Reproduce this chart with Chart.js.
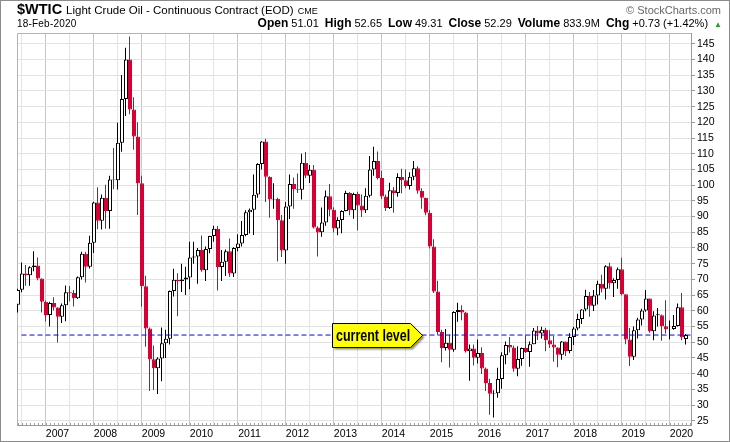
<!DOCTYPE html>
<html>
<head>
<meta charset="utf-8">
<title>$WTIC Light Crude Oil - Continuous Contract (EOD)</title>
<script src="https://cdn.jsdelivr.net/npm/chart.js@4.4.1/dist/chart.umd.min.js"></script>
<style>
  html, body { margin: 0; padding: 0; background: #fff; }
  #wrap { position: relative; width: 730px; height: 442px; overflow: hidden;
          font-family: "Liberation Sans", Arial, sans-serif; color: #000; }
  #chart { position: absolute; left: 0; top: 0; }
  #frame { position: absolute; left: 0; top: 0; width: 728px; height: 440px;
           border: 1px solid #8c8c8c; pointer-events: none; }
  .hdr { position: absolute; white-space: nowrap; display: flex; align-items: baseline; }
  #title { left: 17px; top: 2px; line-height: 15px; }
  #title b { font-size: 14.5px; margin-right: 4px; }
  #title .name { font-size: 11.5px; margin-right: 4px; }
  #title .exch { font-size: 9px; }
  #brand { right: 9px; top: 4px; font-size: 11px; color: #666; line-height: 12px; }
  #date { left: 17px; top: 18px; font-size: 10px; line-height: 11px; letter-spacing: 0.2px; }
  #quote { right: 8px; top: 17px; line-height: 12px; }
  #quote b { font-size: 12px; margin-right: 3px; }
  #quote span { font-size: 11px; margin-right: 6px; }
  #quote .arrow { font-size: 8px; color: #2e9b2e; margin-right: 0; }
</style>
</head>
<body>
<div id="wrap">
  <canvas id="chart" width="730" height="442"></canvas>
  <div class="hdr" id="title"><b>$WTIC</b><span class="name">Light Crude Oil - Continuous Contract (EOD)</span><span class="exch">CME</span></div>
  <div class="hdr" id="brand">© StockCharts.com</div>
  <div class="hdr" id="date"></div>
  <div class="hdr" id="quote"></div>
  <div id="frame"></div>
</div>
<script>
  // monthly candles, first one is Mar 2006 (months counted from Jan 2007)
  const firstMonth = -10;

  const opens = [
    61.9, 66.7, 71.9, 71.3, 73.9, 74.4, 70.3, 62.9, 58.7, 62.5,
    61.05, 58.1, 61.8, 65.9, 65.7, 64.0, 70.7, 78.2, 74.0, 81.7, 94.5, 88.7,
    96.0, 91.75, 101.8, 101.6, 113.5, 127.4, 140.0, 124.1, 115.5, 100.6, 67.8, 54.4,
    44.6, 41.7, 44.8, 49.7, 51.1, 66.3, 69.9, 69.5, 70.0, 70.6, 77.0, 77.3,
    79.4, 72.9, 79.7, 83.8, 86.15, 73.97, 75.6, 79.0, 71.9, 80.0, 81.4, 84.1,
    91.4, 92.2, 97.0, 106.7, 113.9, 102.7, 95.4, 95.7, 88.8, 79.2, 93.2, 100.4,
    98.8, 98.5, 107.1, 103.0, 104.9, 86.5, 85.0, 88.1, 96.5, 92.2, 86.2, 88.9,
    91.8, 97.5, 92.05, 97.2, 93.5, 92.0, 96.6, 105.0, 107.7, 102.3, 96.4, 92.7,
    98.4, 97.5, 102.6, 101.6, 99.7, 102.7, 105.4, 98.2, 96.0, 91.2, 80.5, 66.15,
    53.3, 48.2, 49.8, 47.6, 59.6, 60.3, 59.5, 47.1, 48.0, 45.1, 46.6, 41.65,
    37.04, 33.6, 33.75, 38.3, 45.9, 49.1, 48.3, 41.6, 44.7, 48.2, 46.86, 49.4,
    53.7, 52.8, 54.0, 50.6, 49.3, 48.3, 46.0, 50.2, 47.2, 51.7, 54.4, 57.4,
    60.4, 64.7, 61.6, 64.9, 68.6, 67.0, 74.15, 68.8, 69.8, 73.25, 65.3, 50.9,
    45.4, 53.8, 57.2, 60.1, 63.9, 53.5, 58.9, 58.6, 55.1, 54.1, 54.2, 55.2,
    61.1, 51.0
  ];

  const highs = [
    67.0, 75.35, 74.6, 74.2, 79.0, 77.0, 70.3, 63.3, 62.9, 64.3,
    61.1, 62.3, 68.1, 67.9, 66.6, 70.9, 78.8, 78.8, 83.9, 94.7, 99.3, 97.0,
    100.1, 103.0, 111.8, 119.9, 135.1, 143.7, 147.3, 128.0, 120.0, 103.0, 71.2, 54.7,
    49.0, 45.2, 54.7, 54.0, 66.5, 73.4, 72.0, 75.0, 74.0, 82.0, 82.0, 80.0,
    83.95, 80.5, 83.9, 87.1, 87.0, 79.4, 79.5, 83.0, 80.2, 84.4, 88.6, 92.0,
    92.6, 103.4, 106.95, 114.0, 114.8, 102.8, 100.6, 96.0, 90.5, 94.65, 103.4, 102.4,
    103.7, 110.0, 110.55, 106.4, 106.4, 86.9, 92.9, 98.3, 100.4, 93.0, 89.8, 92.0,
    98.2, 97.8, 97.6, 97.9, 97.0, 99.0, 109.3, 112.2, 110.7, 104.6, 97.0, 100.75,
    99.4, 103.8, 105.2, 104.99, 104.1, 107.7, 106.0, 99.0, 96.0, 92.0, 82.8, 69.6,
    54.0, 54.2, 52.5, 59.9, 62.6, 61.8, 59.7, 49.3, 49.3, 50.9, 48.4, 42.0,
    38.4, 34.7, 41.9, 46.8, 50.2, 51.7, 49.0, 48.75, 48.3, 52.2, 50.2, 54.5,
    55.2, 54.9, 54.6, 53.8, 52.0, 48.4, 50.4, 50.2, 52.9, 54.9, 59.05, 60.5,
    66.7, 66.0, 66.6, 69.6, 71.5, 74.5, 75.3, 70.4, 73.8, 76.9, 65.3, 54.55,
    55.0, 57.8, 60.7, 66.6, 63.9, 59.9, 60.9, 58.8, 63.4, 56.9, 58.7, 62.3,
    65.65, 52.65
  ];

  const lows = [
    59.5, 65.9, 68.0, 68.0, 72.6, 69.7, 59.5, 56.6, 55.0, 60.1,
    49.9, 56.1, 56.7, 63.0, 61.4, 63.8, 70.0, 69.0, 73.5, 78.4, 86.0, 85.9,
    86.1, 86.1, 98.7, 98.6, 110.6, 122.0, 122.6, 111.3, 90.5, 61.3, 48.6, 34.5,
    34.8, 33.55, 37.6, 45.0, 49.3, 64.6, 58.3, 66.0, 65.05, 66.9, 75.0, 68.6,
    72.4, 69.5, 78.3, 82.0, 66.5, 69.5, 71.1, 70.8, 70.8, 79.0, 80.5, 83.7,
    84.6, 84.1, 96.0, 105.0, 94.6, 89.6, 92.5, 75.7, 77.1, 74.95, 89.2, 92.5,
    97.5, 95.4, 102.2, 100.7, 86.2, 77.3, 83.6, 87.1, 90.1, 84.9, 84.05, 84.7,
    91.7, 90.4, 89.3, 85.6, 89.9, 91.1, 96.1, 103.0, 101.8, 95.6, 91.8, 92.4,
    91.2, 96.3, 97.4, 99.0, 98.6, 101.6, 97.3, 92.5, 90.4, 79.8, 65.7, 52.4,
    43.6, 47.4, 42.0, 47.0, 56.5, 57.0, 46.7, 37.75, 42.6, 43.2, 39.9, 34.5,
    26.9, 26.05, 32.3, 35.2, 43.0, 46.7, 40.6, 39.2, 42.5, 46.6, 42.2, 49.4,
    50.7, 51.2, 47.1, 48.2, 43.8, 42.05, 44.4, 45.6, 46.5, 49.1, 53.8, 55.8,
    59.9, 58.1, 59.95, 62.0, 65.8, 63.6, 67.0, 64.4, 67.0, 64.9, 49.4, 42.4,
    44.35, 51.2, 55.3, 59.7, 53.0, 50.6, 55.0, 50.5, 52.8, 50.99, 54.0, 55.0,
    50.6, 49.31
  ];

  const closes = [
    66.6, 71.9, 71.3, 73.9, 74.4, 70.3, 62.9, 58.7, 62.5, 61.05,
    58.1, 61.8, 65.9, 65.7, 64.0, 70.7, 78.2, 74.0, 81.7, 94.5, 88.7, 96.0,
    91.75, 101.8, 101.6, 113.5, 127.4, 140.0, 124.1, 115.5, 100.6, 67.8, 54.4, 44.6,
    41.7, 44.8, 49.7, 51.1, 66.3, 69.9, 69.45, 69.96, 70.6, 77.0, 77.3, 79.4,
    72.9, 79.7, 83.8, 86.15, 73.97, 75.6, 78.95, 71.9, 79.97, 81.4, 84.1, 91.4,
    92.2, 96.97, 106.7, 113.9, 102.7, 95.4, 95.7, 88.8, 79.2, 93.2, 100.4, 98.8,
    98.5, 107.1, 103.0, 104.9, 86.5, 84.96, 88.1, 96.5, 92.2, 86.2, 88.9, 91.8,
    97.5, 92.05, 97.2, 93.5, 91.97, 96.6, 105.0, 107.7, 102.3, 96.4, 92.7, 98.4,
    97.5, 102.6, 101.6, 99.7, 102.7, 105.4, 98.2, 95.96, 91.2, 80.5, 66.15, 53.3,
    48.2, 49.8, 47.6, 59.6, 60.3, 59.5, 47.1, 48.0, 45.1, 46.6, 41.65, 37.04,
    33.6, 33.75, 38.3, 45.9, 49.1, 48.3, 41.6, 44.7, 48.2, 46.86, 49.4, 53.7,
    52.8, 54.0, 50.6, 49.3, 48.3, 46.0, 50.2, 47.2, 51.7, 54.4, 57.4, 60.4,
    64.7, 61.6, 64.9, 68.6, 67.0, 74.15, 68.8, 69.8, 73.25, 65.3, 50.9, 45.4,
    53.8, 57.2, 60.1, 63.9, 53.5, 58.5, 58.6, 55.1, 54.1, 54.2, 55.2, 61.1,
    51.56, 52.29
  ];

  const yearLabels = ["2007", "2008", "2009", "2010", "2011", "2012", "2013",
                      "2014", "2015", "2016", "2017", "2018", "2019", "2020"];
  const priceTicks = [25, 30, 35, 40, 45, 50, 55, 60, 65, 70, 75, 80, 85, 90, 95,
                      100, 105, 110, 115, 120, 125, 130, 135, 140, 145];

  const quoteDate = "18-Feb-2020";
  const quoteLabels = ["Open", "High", "Low", "Close", "Volume", "Chg"];
  const quoteValues = ["51.01", "52.65", "49.31", "52.29", "833.9M", "+0.73 (+1.42%)"];

  const currentLevel = 52.29;
  const calloutText = "current level";

  // axis window and annotation anchors (in months from Jan 2007)
  const xMin = -10.125, xMax = 158.375;
  const levelStart = -9;
  const calloutTip = 91.1;
  const yMin = 23.66, yMax = 148.43;
  // a 4px body cannot be centred on a 1px wick, so nudge bodies half a pixel
  const bodyShift = 0.125;

  const upColor = "#000000";
  const downColor = "#d70035";
  const fontFamily = '"Liberation Sans", Arial, sans-serif';

  document.getElementById("date").textContent = quoteDate;
  const quote = document.getElementById("quote");
  quoteLabels.forEach(function (label, i) {
    const b = document.createElement("b");
    b.textContent = label;
    const s = document.createElement("span");
    s.textContent = quoteValues[i];
    quote.appendChild(b);
    quote.appendChild(s);
  });
  const arrow = document.createElement("span");
  arrow.className = "arrow";
  arrow.textContent = "▲";
  quote.appendChild(arrow);

  const months = opens.map(function (_, i) { return firstMonth + i; });
  const candleColors = [];
  const bodyFills = [];
  closes.forEach(function (close, i) {
    const prev = i > 0 ? closes[i - 1] : opens[i];
    const color = close >= prev ? upColor : downColor;
    candleColors.push(color);
    bodyFills.push(close < opens[i] ? color : "#ffffff");
  });

  const plotFrame = {
    id: "plotFrame",
    beforeDatasetsDraw(chart) {
      const { ctx, chartArea: a, scales } = chart;
      ctx.save();
      ctx.strokeStyle = "#b4b4b4";
      ctx.lineWidth = 1;
      ctx.beginPath();
      ctx.moveTo(a.left + 0.5, a.bottom);
      ctx.lineTo(a.left + 0.5, a.top + 0.5);
      ctx.lineTo(a.right, a.top + 0.5);
      ctx.stroke();
      // small month ticks along the time axis
      ctx.strokeStyle = "#a0a0a0";
      ctx.beginPath();
      for (let m = Math.ceil(xMin); m <= Math.floor(xMax); m++) {
        const px = Math.round(scales.x.getPixelForValue(m)) + 0.5;
        ctx.moveTo(px, a.bottom - 2);
        ctx.lineTo(px, a.bottom);
      }
      ctx.stroke();
      ctx.restore();
    }
  };

  const callout = {
    id: "callout",
    afterDatasetsDraw(chart) {
      const { ctx, scales } = chart;
      const tipX = Math.round(scales.x.getPixelForValue(calloutTip)) + 0.5;
      const cy = Math.round(scales.y.getPixelForValue(currentLevel)) + 0.5;
      ctx.save();
      ctx.font = 'bold 16px "Liberation Sans Narrow", "Arial Narrow", ' + fontFamily;
      let tw = ctx.measureText(calloutText).width;
      // no narrow face installed: squeeze the regular one like Arial Narrow
      const squeeze = tw > 82 ? 0.78 : 1;
      tw *= squeeze;
      const h = 24, tip = 12;
      const right = tipX - tip;
      const left = Math.round(right - tw - 4) + 0.5;
      ctx.beginPath();
      ctx.moveTo(left, cy - h / 2);
      ctx.lineTo(right, cy - h / 2);
      ctx.lineTo(tipX, cy);
      ctx.lineTo(right, cy + h / 2);
      ctx.lineTo(left, cy + h / 2);
      ctx.closePath();
      ctx.shadowColor = "rgba(0,0,0,0.45)";
      ctx.shadowOffsetX = 2;
      ctx.shadowOffsetY = 2;
      ctx.shadowBlur = 2;
      ctx.fillStyle = "#ffff00";
      ctx.fill();
      ctx.shadowColor = "transparent";
      ctx.strokeStyle = "#000";
      ctx.lineWidth = 1;
      ctx.stroke();
      ctx.fillStyle = "#000";
      ctx.textBaseline = "middle";
      ctx.translate(left + 3.5, cy + 1);
      ctx.scale(squeeze, 1);
      ctx.fillText(calloutText, 0, 0);
      ctx.restore();
    }
  };

  new Chart(document.getElementById("chart").getContext("2d"), {
    type: "bar",
    data: {
      datasets: [
        {
          type: "line",
          label: "current level",
          data: [{ x: levelStart, y: currentLevel }, { x: xMax, y: currentLevel }],
          borderColor: "#0000ff",
          borderWidth: 1,
          borderDash: [5, 3],
          pointRadius: 0,
          order: 0
        },
        {
          label: "body",
          data: months.map(function (m, i) { return { x: m + bodyShift, y: [opens[i], closes[i]] }; }),
          backgroundColor: bodyFills,
          borderColor: candleColors,
          borderWidth: 1,
          borderSkipped: false,
          barThickness: 4,
          grouped: false,
          inflateAmount: 0,
          order: 1
        },
        {
          label: "wick",
          data: months.map(function (m, i) { return { x: m, y: [lows[i], highs[i]] }; }),
          backgroundColor: candleColors,
          borderWidth: 0,
          barThickness: 1,
          grouped: false,
          inflateAmount: 0,
          order: 2
        }
      ]
    },
    options: {
      responsive: false,
      devicePixelRatio: 1,
      animation: false,
      events: [],
      layout: { padding: { left: 17, top: 33, right: 0, bottom: 0 } },
      plugins: { legend: { display: false }, tooltip: { enabled: false } },
      scales: {
        x: {
          type: "linear",
          min: xMin,
          max: xMax,
          offset: false,
          afterBuildTicks: function (scale) {
            const ticks = [];
            yearLabels.forEach(function (_, i) {
              ticks.push({ value: i * 12 - 6 });
              ticks.push({ value: i * 12 });
            });
            scale.ticks = ticks;
          },
          afterFit: function (scale) { scale.height = 17; },
          grid: {
            color: function (ctx) {
              return ctx.tick && ctx.tick.value % 12 === 0 ? "#c6c6c6" : "#e4e4e4";
            },
            drawTicks: false
          },
          border: { color: "#9a9a9a" },
          ticks: {
            autoSkip: false,
            maxRotation: 0,
            padding: 3,
            color: "#000",
            font: { family: fontFamily, size: 10.5 },
            callback: function (value) {
              return value % 12 === 0 ? yearLabels[value / 12] : "";
            }
          }
        },
        y: {
          position: "right",
          min: yMin,
          max: yMax,
          afterBuildTicks: function (scale) {
            scale.ticks = priceTicks.map(function (v) { return { value: v }; });
          },
          afterFit: function (scale) { scale.width = 39; },
          grid: { color: "#e2e2e2", tickLength: 4, tickColor: "#9a9a9a" },
          border: { color: "#9a9a9a" },
          ticks: {
            padding: 2,
            color: "#000",
            font: { family: fontFamily, size: 10.5 }
          }
        }
      }
    },
    plugins: [plotFrame, callout]
  });
</script>
</body>
</html>
